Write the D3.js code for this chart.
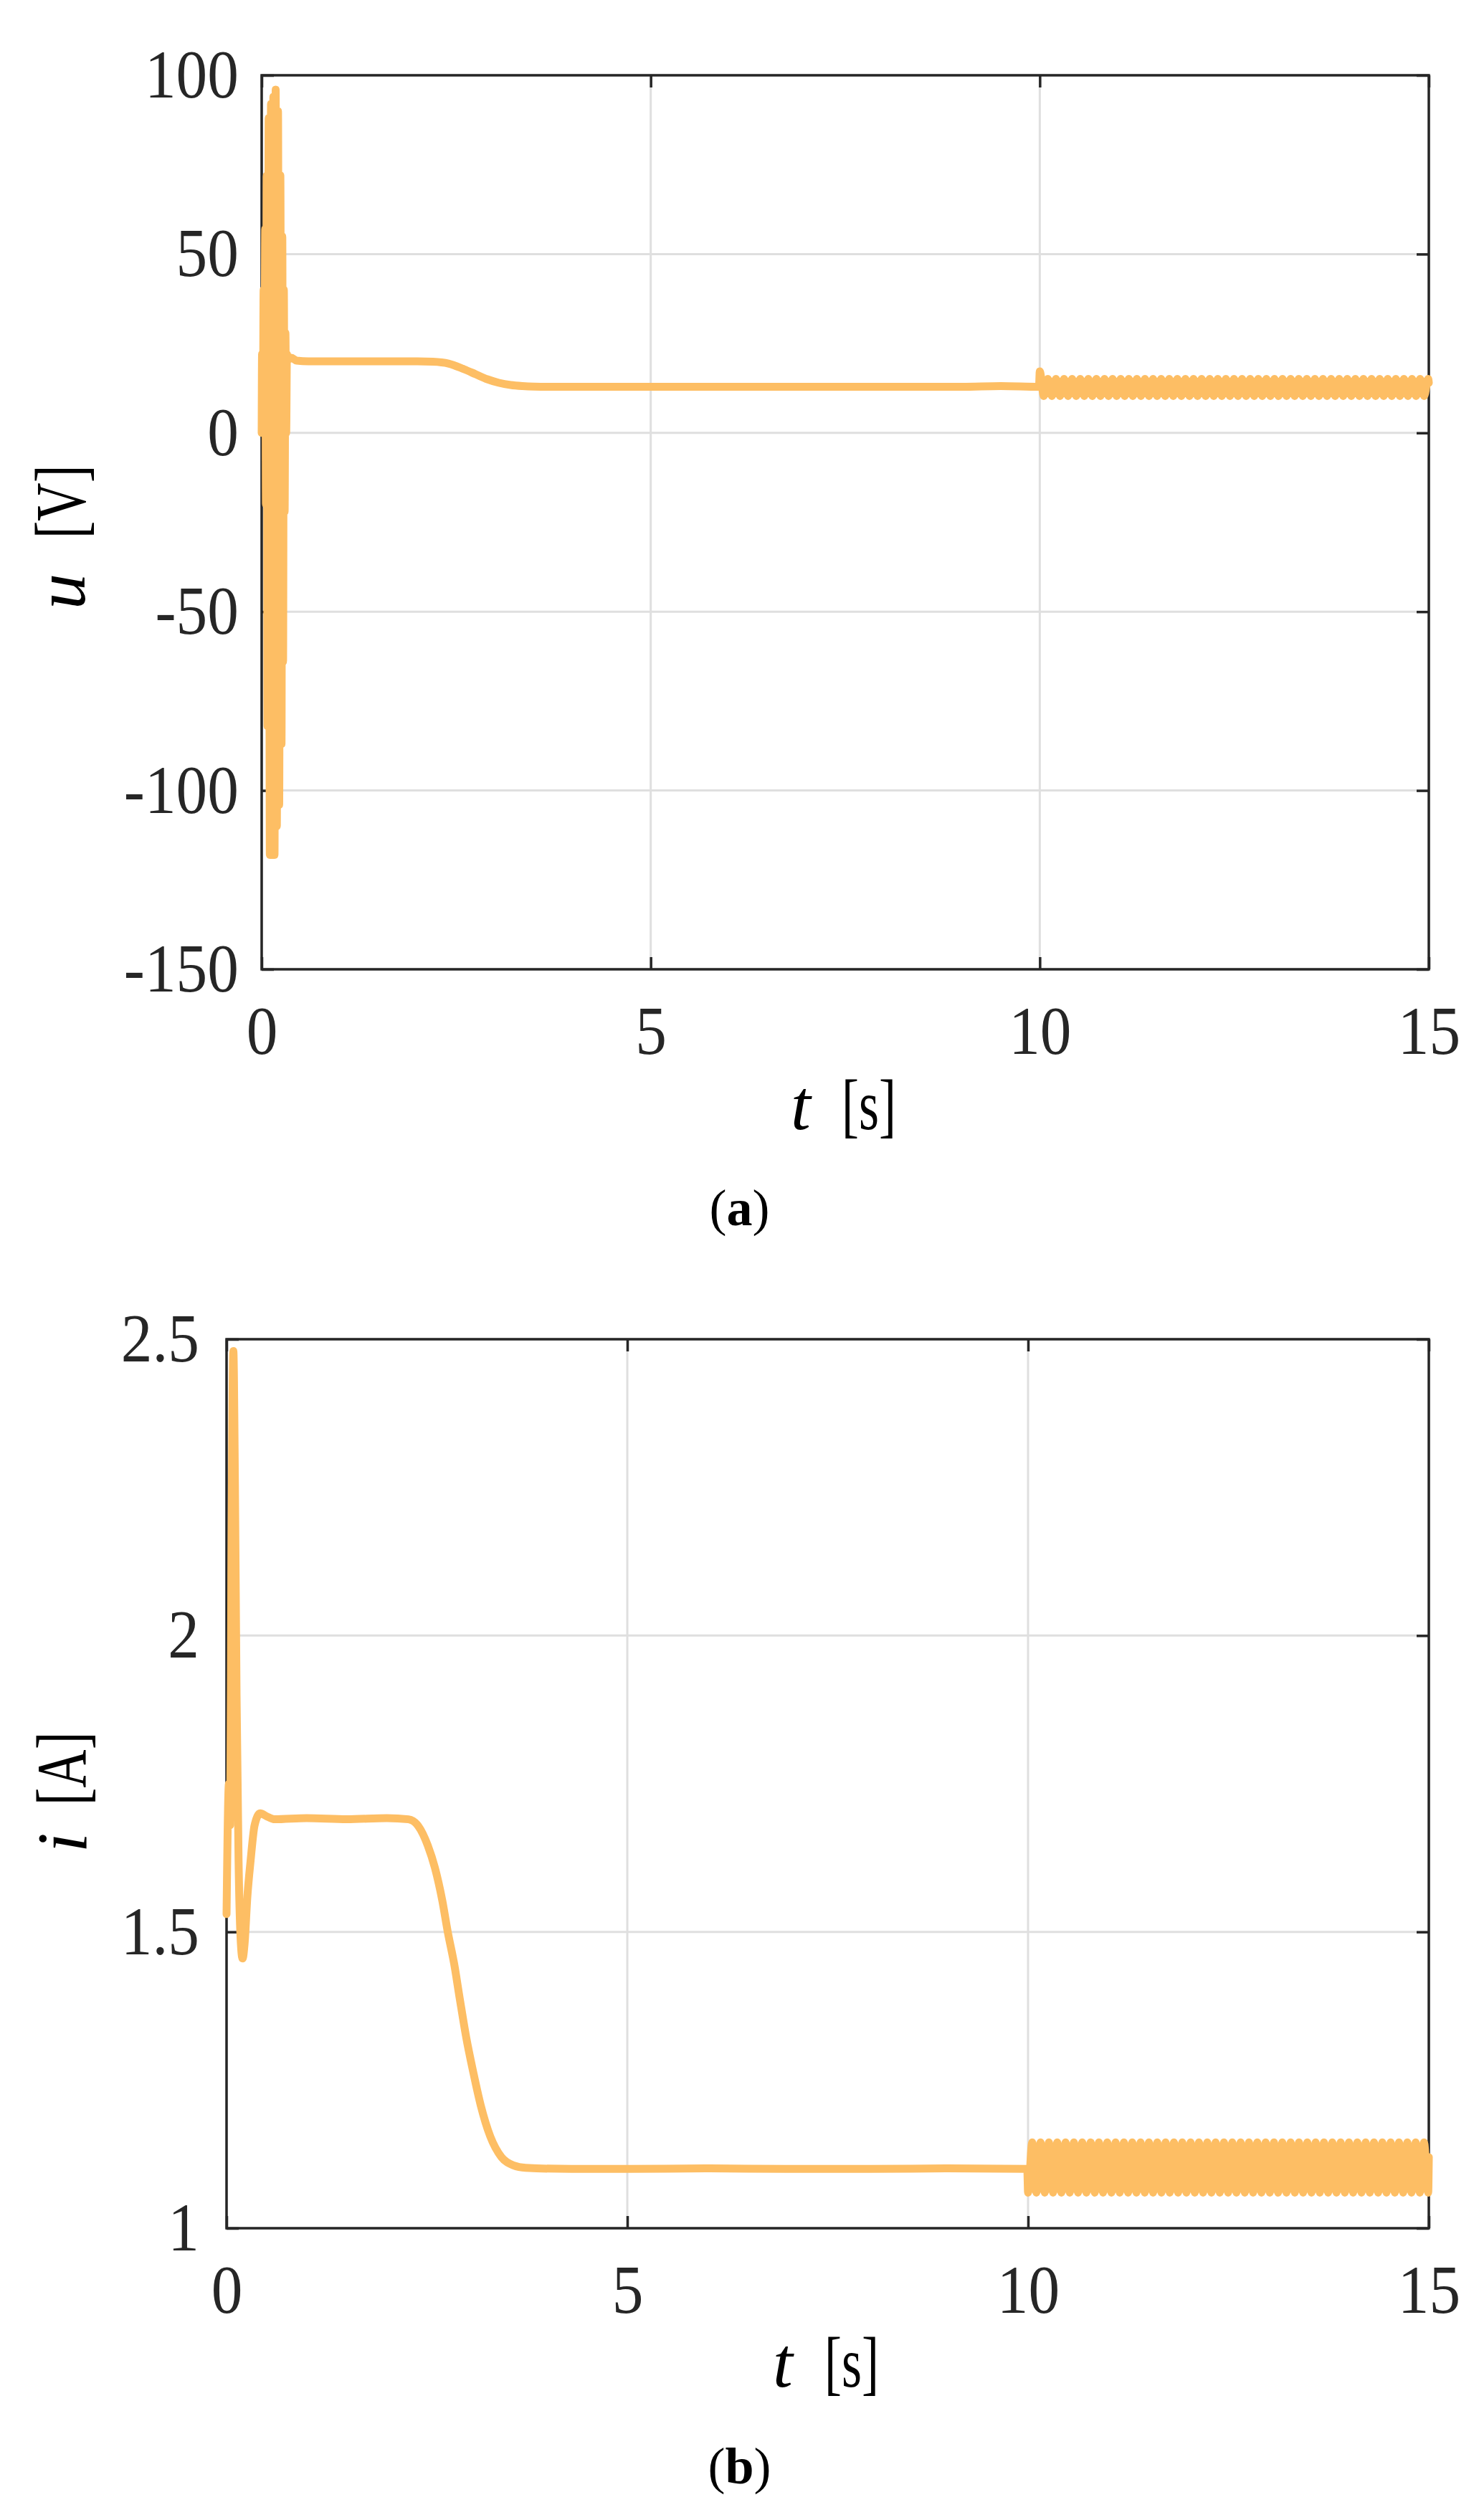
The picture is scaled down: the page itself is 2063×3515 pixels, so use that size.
<!DOCTYPE html>
<html>
<head>
<meta charset="utf-8">
<script src="https://cdn.jsdelivr.net/npm/d3@7"></script>
<style>
  html, body { margin: 0; padding: 0; background: #ffffff; }
  svg { display: block; }
</style>
</head>
<body>
<script>
// ---------------- DATA ----------------
const xTicks = [0, 5, 10, 15];
const xTickLabels = ["0", "5", "10", "15"];

const yTicksA = [-150, -100, -50, 0, 50, 100];
const yTickLabelsA = ["-150", "-100", "-50", "0", "50", "100"];
const yTicksB = [1, 1.5, 2, 2.5];
const yTickLabelsB = ["1", "1.5", "2", "2.5"];

// (a) voltage u [V], transient and plateau part
const tA = [0.000,0.005,0.015,0.025,0.035,0.045,0.055,0.065,0.075,0.090,0.105,0.120,0.135,0.150,0.165,0.180,0.195,0.210,0.225,0.240,0.255,0.265,0.275,0.285,0.295,0.305,0.315,0.325,0.340,0.380,0.450,0.600,1.000,1.500,2.000,2.200,2.400,2.600,2.750,2.900,3.050,3.200,3.350,3.500,3.700,4.000,5.000,6.000,7.000,8.000,9.000,9.500,9.990];
const uA = [0,22,2,40,0,57,-20,72,-82,88,-118,92,-118,94,-118,96,-110,90,-104,72,-87,55,-64,40,-22,28,0,22,20.5,21,20.2,20,20,20,20,19.9,19.4,17.8,16.4,15.0,14.0,13.4,13.1,12.95,12.9,12.9,12.9,12.9,12.9,12.9,12.9,13.1,12.9];

// (b) current i [A], transient and plateau part
const tB = [0.000,0.030,0.045,0.060,0.085,0.105,0.125,0.150,0.175,0.200,0.225,0.260,0.300,0.350,0.420,0.500,0.600,1.000,1.500,2.000,2.270,2.390,2.510,2.600,2.690,2.760,2.840,2.910,2.990,3.080,3.170,3.290,3.430,3.580,3.730,4.300,5.000,6.000,7.000,8.000,9.000,9.990];
const iB = [1.53,1.75,1.68,2.10,2.48,2.25,1.90,1.62,1.49,1.455,1.48,1.56,1.62,1.68,1.70,1.695,1.69,1.692,1.690,1.692,1.690,1.679,1.646,1.608,1.554,1.500,1.446,1.387,1.322,1.262,1.208,1.155,1.120,1.106,1.102,1.100,1.100,1.101,1.100,1.100,1.101,1.100];

// oscillating part after t = 10 s (extremes)
const tOsc = [
10.000,10.052,10.104,10.156,10.208,10.260,10.312,10.364,10.416,10.468,
10.520,10.572,10.624,10.676,10.728,10.780,10.832,10.884,10.936,10.988,
11.040,11.092,11.144,11.196,11.248,11.300,11.352,11.404,11.456,11.508,
11.560,11.612,11.664,11.716,11.768,11.820,11.872,11.924,11.976,12.028,
12.080,12.132,12.184,12.236,12.288,12.340,12.392,12.444,12.496,12.548,
12.600,12.652,12.704,12.756,12.808,12.860,12.912,12.964,13.016,13.068,
13.120,13.172,13.224,13.276,13.328,13.380,13.432,13.484,13.536,13.588,
13.640,13.692,13.744,13.796,13.848,13.900,13.952,14.004,14.056,14.108,
14.160,14.212,14.264,14.316,14.368,14.420,14.472,14.524,14.576,14.628,
14.680,14.732,14.784,14.836,14.888,14.940,14.992,15.000];
const uOsc = [
17.2,10.3,15.1,10.3,15.1,10.3,15.1,10.3,15.1,10.3,
15.1,10.3,15.1,10.3,15.1,10.3,15.1,10.3,15.1,10.3,
15.1,10.3,15.1,10.3,15.1,10.3,15.1,10.3,15.1,10.3,
15.1,10.3,15.1,10.3,15.1,10.3,15.1,10.3,15.1,10.3,
15.1,10.3,15.1,10.3,15.1,10.3,15.1,10.3,15.1,10.3,
15.1,10.3,15.1,10.3,15.1,10.3,15.1,10.3,15.1,10.3,
15.1,10.3,15.1,10.3,15.1,10.3,15.1,10.3,15.1,10.3,
15.1,10.3,15.1,10.3,15.1,10.3,15.1,10.3,15.1,10.3,
15.1,10.3,15.1,10.3,15.1,10.3,15.1,10.3,15.1,10.3,
15.1,10.3,15.1,10.3,15.1,10.3,15.1,14.0];
const iOsc = [
1.06,1.145,1.06,1.145,1.06,1.145,1.06,1.145,1.06,1.145,
1.06,1.145,1.06,1.145,1.06,1.145,1.06,1.145,1.06,1.145,
1.06,1.145,1.06,1.145,1.06,1.145,1.06,1.145,1.06,1.145,
1.06,1.145,1.06,1.145,1.06,1.145,1.06,1.145,1.06,1.145,
1.06,1.145,1.06,1.145,1.06,1.145,1.06,1.145,1.06,1.145,
1.06,1.145,1.06,1.145,1.06,1.145,1.06,1.145,1.06,1.145,
1.06,1.145,1.06,1.145,1.06,1.145,1.06,1.145,1.06,1.145,
1.06,1.145,1.06,1.145,1.06,1.145,1.06,1.145,1.06,1.145,
1.06,1.145,1.06,1.145,1.06,1.145,1.06,1.145,1.06,1.145,
1.06,1.145,1.06,1.145,1.06,1.145,1.06,1.12];

// ---------------- DRAWING ----------------
const W = 2063, H = 3515;
const svg = d3.select("body").append("svg")
  .attr("width", W).attr("height", H)
  .attr("viewBox", `0 0 ${W} ${H}`);
svg.append("rect").attr("width", W).attr("height", H).attr("fill", "#ffffff");

const FONT = "'Liberation Serif', 'Times New Roman', serif";
const AX = "#262626";
const LINE = "#fdbe64";
const GRID = "#dfdfdf";
const TICK = 17;
const SX = 0.92;

function panel(cfg) {
  const x = d3.scaleLinear().domain([0, 15]).range([cfg.x0, cfg.x1]);
  const y = d3.scaleLinear().domain(cfg.yDomain).range([cfg.y1, cfg.y0]);
  const g = svg.append("g");

  // grid
  g.append("g").selectAll("line").data(xTicks).join("line")
    .attr("x1", d => x(d)).attr("x2", d => x(d))
    .attr("y1", cfg.y0).attr("y2", cfg.y1)
    .attr("stroke", GRID).attr("stroke-width", 3);
  g.append("g").selectAll("line").data(cfg.yTicks).join("line")
    .attr("x1", cfg.x0).attr("x2", cfg.x1)
    .attr("y1", d => y(d)).attr("y2", d => y(d))
    .attr("stroke", GRID).attr("stroke-width", 3);

  const styleAxis = (sel) => {
    sel.select(".domain").remove();
    sel.selectAll(".tick line").attr("stroke", AX).attr("stroke-width", 3.5);
    sel.selectAll(".tick text").attr("fill", AX)
      .style("font-family", FONT).style("font-size", "95px");
  };

  // bottom axis
  g.append("g").attr("transform", `translate(0,${cfg.y1})`)
    .call(d3.axisBottom(x).tickValues(xTicks)
      .tickFormat((d, i) => xTickLabels[i])
      .tickSizeInner(-TICK).tickSizeOuter(0).tickPadding(cfg.xPad))
    .call(styleAxis)
    .call(s => s.selectAll(".tick text").attr("transform", `scale(${SX},1)`));
  // top axis (ticks only)
  g.append("g").attr("transform", `translate(0,${cfg.y0})`)
    .call(d3.axisTop(x).tickValues(xTicks).tickFormat("")
      .tickSizeInner(-TICK).tickSizeOuter(0))
    .call(styleAxis);
  // left axis
  g.append("g").attr("transform", `translate(${cfg.x0},0)`)
    .call(d3.axisLeft(y).tickValues(cfg.yTicks)
      .tickFormat((d, i) => cfg.yTickLabels[i])
      .tickSizeInner(-TICK).tickSizeOuter(0).tickPadding(cfg.yPad))
    .call(styleAxis)
    .call(s => s.selectAll(".tick text")
      .attr("transform", `translate(${-cfg.yPad},0) scale(${SX},1) translate(${cfg.yPad},0)`));
  // right axis (ticks only)
  g.append("g").attr("transform", `translate(${cfg.x1},0)`)
    .call(d3.axisRight(y).tickValues(cfg.yTicks).tickFormat("")
      .tickSizeInner(-TICK).tickSizeOuter(0))
    .call(styleAxis);

  // box
  g.append("rect")
    .attr("x", cfg.x0).attr("y", cfg.y0)
    .attr("width", cfg.x1 - cfg.x0).attr("height", cfg.y1 - cfg.y0)
    .attr("fill", "none").attr("stroke", AX).attr("stroke-width", 3.5);

  // data line
  const pts = cfg.t.map((t, i) => ({ t, v: cfg.v[i] }));
  const line = d3.line().x(d => x(d.t)).y(d => y(d.v)).curve(d3.curveMonotoneX);
  g.append("path").datum(pts)
    .attr("d", line)
    .attr("fill", "none")
    .attr("stroke", LINE)
    .attr("stroke-width", 11)
    .attr("stroke-linejoin", "round")
    .attr("stroke-linecap", "round");

  // x label:  t [s]
  g.append("text")
    .attr("x", cfg.xl.tx).attr("y", cfg.xl.base)
    .attr("text-anchor", "middle")
    .style("font-family", FONT).style("font-style", "italic").style("font-size", "100px")
    .attr("fill", "#000").text("t");
  g.append("text")
    .attr("transform", `translate(${cfg.xl.ux},${cfg.xl.base}) scale(0.72,1)`)
    .attr("text-anchor", "middle")
    .style("font-family", FONT).style("font-size", "100px")
    .attr("fill", "#000").text("[s]");

  // y label
  g.append("text")
    .attr("transform", `translate(${cfg.yl.base},${cfg.yl.vy}) rotate(-90)`)
    .attr("text-anchor", "middle")
    .style("font-family", FONT).style("font-style", "italic").style("font-size", "100px")
    .attr("fill", "#000").text(cfg.yl.v);
  g.append("text")
    .attr("transform", `translate(${cfg.yl.base},${cfg.yl.uy}) rotate(-90) scale(0.74,1)`)
    .attr("text-anchor", "middle")
    .style("font-family", FONT).style("font-size", "100px")
    .attr("fill", "#000").text(cfg.yl.u);

  // caption
  const cap = g.append("text")
    .attr("x", W / 2).attr("y", cfg.capBase)
    .attr("text-anchor", "middle")
    .style("font-family", FONT).style("font-size", "72px")
    .attr("fill", "#000");
  cap.append("tspan").text("(");
  cap.append("tspan").style("font-weight", "bold").text(cfg.cap);
  cap.append("tspan").text(")");
}

panel({
  x0: 365, x1: 1993, y0: 105, y1: 1352,
  yDomain: [-150, 100], yTicks: yTicksA, yTickLabels: yTickLabelsA,
  xPad: 51, yPad: 32,
  t: tA.concat(tOsc), v: uA.concat(uOsc),
  xl: { tx: 1117, ux: 1212, base: 1575 },
  yl: { base: 118, vy: 825, uy: 700, v: "u", u: "[V]" },
  cap: "a", capBase: 1709
});

panel({
  x0: 316, x1: 1993, y0: 1868, y1: 3108,
  yDomain: [1, 2.5], yTicks: yTicksB, yTickLabels: yTickLabelsB,
  xPad: 51, yPad: 38,
  t: tB.concat(tOsc), v: iB.concat(iOsc),
  xl: { tx: 1092, ux: 1188, base: 3329 },
  yl: { base: 120, vy: 2570, uy: 2467, v: "i", u: "[A]" },
  cap: "b", capBase: 3464
});
</script>
</body>
</html>
